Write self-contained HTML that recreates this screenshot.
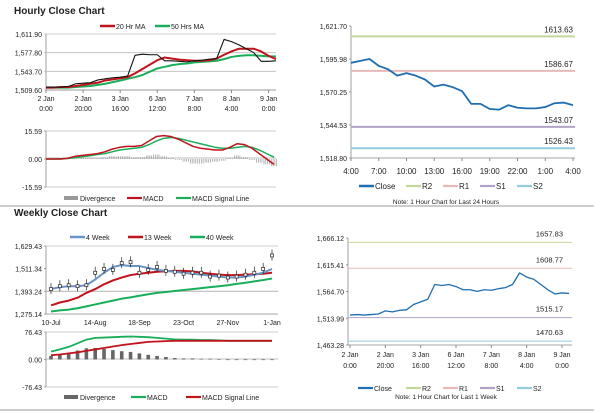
<!DOCTYPE html>
<html><head><meta charset="utf-8"><style>
html,body{margin:0;padding:0;background:#fff;}
svg{display:block;font-family:"Liberation Sans",sans-serif;}
text{fill:#222;}
</style></head><body>
<svg id="c" width="600" height="413" viewBox="0 0 600 413">
<text x="14" y="14" font-size="10" font-weight="bold">Hourly Close Chart</text>
<text x="14" y="216" font-size="10" font-weight="bold">Weekly Close Chart</text>
<line x1="0" y1="206" x2="594" y2="206" stroke="#999"/>
<line x1="0" y1="410" x2="594" y2="410" stroke="#999"/>
</svg>
<script>
// ---------- data ----------
const hIdx=[0,4,8,12,16,20,24,28,32,36,40,44,48,52,56,60,64,68,72,76,80,84,88,92,96,100,104,108,112,116,120,124];
const hClose=[1515,1515,1515,1516,1521,1522,1523,1528,1530,1532,1533,1535,1573,1575,1574,1574,1563,1563,1562,1561,1563,1564,1566,1567,1602,1598,1592,1585,1578,1562,1562,1563];
const hMA20=[1514,1514,1515,1515,1517,1519,1521,1523,1527,1529,1531,1533,1540,1548,1556,1564,1569,1567,1565,1564,1563,1563,1564,1567,1574,1580,1585,1585,1585,1580,1572,1566];
const hMA50=[1514,1514,1514,1514,1515,1516,1517,1519,1521,1524,1527,1530,1533,1537,1543,1549,1552,1555,1557,1558,1560,1561,1562,1563,1566,1570,1572,1573,1573,1572,1571,1571];
const hMACD=[0,0,0,0.5,1.5,2,2.5,3,4,5.5,6.5,7,7,7.5,10,12.5,13,12.5,11,9,7,6,5.5,5,5,6.5,8.5,8,6,3,0,-3];
const hSignal=[0,0,0,0.3,0.8,1.3,1.8,2.5,3,4,5,5.5,6,6.5,8,10,11.5,12,11.5,10.5,9.5,8.5,7.5,6.5,6,6,6.5,7,6.5,5,3,1];
const hDiv=[0,0,0,0.2,0.7,0.7,0.7,0.5,1,1.5,1.5,1.5,1,1,2,2.5,1.5,0.5,-0.5,-1.5,-2.5,-2.5,-2,-1.5,-1,0.5,2,1,-0.5,-2,-3,-4];
const hTickIdx=[0,20,40,60,80,100,120];
const hTickLbl=[["2 Jan","0:00"],["2 Jan","20:00"],["3 Jan","16:00"],["6 Jan","12:00"],["7 Jan","8:00"],["8 Jan","4:00"],["9 Jan","0:00"]];
const hPriceTicks=[1509.60,1543.70,1577.80,1611.90];
const hMacdTicks=[-15.59,0,15.59];

const dClose=[1593,1594.5,1596,1590.6,1588,1583,1585,1583,1580,1574.5,1576,1574,1571,1561,1561,1557,1556.5,1560,1558,1557.5,1557.5,1558.5,1561.5,1562,1560];
const dTickLbl=["4:00","7:00","10:00","13:00","16:00","19:00","22:00","1:00","4:00"];
const dPriceTicks=[1518.80,1544.53,1570.25,1595.98,1621.70];
const dLevels=[1613.63,1586.67,1543.07,1526.43];

const wkLbl=["10-Jul","14-Aug","18-Sep","23-Oct","27-Nov","1-Jan"];
const wkClose=[1405,1420,1425,1420,1425,1490,1510,1505,1540,1545,1490,1505,1520,1500,1495,1485,1490,1490,1470,1475,1465,1470,1480,1490,1510,1580];
const wk4=[1405,1415,1420,1420,1425,1455,1490,1520,1530,1525,1525,1515,1505,1500,1495,1490,1485,1480,1475,1470,1465,1465,1470,1480,1490,1510];
const wk13=[1320,1335,1345,1360,1385,1405,1430,1450,1465,1478,1485,1490,1495,1498,1500,1500,1497,1490,1485,1480,1478,1478,1480,1482,1485,1490];
const wk40=[1288,1294,1298,1305,1315,1325,1335,1345,1355,1362,1370,1378,1385,1390,1395,1400,1405,1410,1415,1420,1425,1432,1438,1445,1452,1460];
const wPriceTicks=[1275.14,1393.24,1511.34,1629.43];
const wMACD=[22,28,35,45,55,60,61,62,63,64,63,62,60,58,56,55,55,54,54,53,52,52,52,52,52,52];
const wSignal=[12,14,17,20,24,28,32,36,40,43,46,49,50,51,52,52,52,52,52,52,52,52,52,52,52,52];
const wDiv=[10,14,18,25,31,32,29,26,23,21,17,13,10,7,4,3,3,2,2,1,0,0,-1,-1,0,0];
const wMacdTicks=[-76.43,0,76.43];

const woClose=[1520,1521,1520,1521,1522,1528,1526,1529,1530,1540,1545,1550,1578,1576,1578,1574,1568,1568,1565,1568,1567,1570,1572,1578,1600,1592,1588,1578,1568,1560,1562,1561];
const woPriceTicks=[1463.28,1513.99,1564.70,1615.41,1666.12];
const woLevels=[1657.83,1608.77,1515.17,1470.63];

// ---------- helpers ----------
const S=document.getElementById('c');const NS='http://www.w3.org/2000/svg';
function el(t,a,txt){const e=document.createElementNS(NS,t);for(const k in a)e.setAttribute(k,a[k]);if(txt!==undefined)e.textContent=txt;S.appendChild(e);return e;}
function lin(d0,d1,r0,r1){return v=>r0+(v-d0)*(r1-r0)/(d1-d0);}
function fmt(v){const s=Math.abs(v).toFixed(2).replace(/\B(?=(\d{3})+(?!\d))/g,",");return (v<0?"-":"")+s;}
function poly(xs,ys,col,w,name){const p=el('polyline',{points:xs.map((x,i)=>x+','+ys[i]).join(' '),fill:'none',stroke:col,'stroke-width':w,'stroke-linejoin':'round'});

return p;}
function yAxis(x,ticks,ys,x2,grid,name){
 el('line',{x1:x,y1:ys(ticks[ticks.length-1]),x2:x,y2:ys(ticks[0]),stroke:'#888','stroke-width':0.8});
 ticks.forEach(t=>{const y=ys(t);
  const tx=el('text',{x:x-4,y:y+3,'font-size':7,'text-anchor':'end'},fmt(t));
  
  
  el('line',{x1:x-2,y1:y,x2:grid?x2:x,y2:y,stroke:grid?'#bbb':'#888','stroke-width':0.8});});}
function legend(items,y,fs){items.forEach(it=>{
 if(it.bar)el('rect',{x:it.x,y:y-3,width:14,height:4,fill:it.c});else el('line',{x1:it.x,y1:y-1,x2:it.x+15,y2:y-1,stroke:it.c,'stroke-width':it.w||2.2});
 const t=el('text',{x:it.x+16,y:y+2,'font-size':fs||7},it.t);
 
 });}

// ---------- hourly price ----------
{const X=lin(0,124,46,276),Y=lin(1509.6,1611.9,90,34);
 yAxis(46,hPriceTicks,Y,276,true,'hourly-price');
 el('line',{x1:46,y1:90,x2:276,y2:90,stroke:'#888','stroke-width':0.8});
 hTickIdx.forEach((t,i)=>{const x=X(t);el('line',{x1:x,y1:90,x2:x,y2:93,stroke:'#888'});
  el('text',{x:x,y:101,'font-size':7,'text-anchor':'middle'},hTickLbl[i][0]);
  el('text',{x:x,y:111,'font-size':7,'text-anchor':'middle'},hTickLbl[i][1]);});
 const xs=hIdx.map(X);
 poly(xs,hMA50.map(Y),'#1aae5a',2,'ma50-line');
 poly(xs,hMA20.map(Y),'#c0141c',2,'ma20-line');
 poly(xs,hClose.map(Y),'#111',1.1,'hourly-close-line');
 legend([{x:100,c:'#c0141c',t:'20 Hr MA',w:2.5},{x:155,c:'#1aae5a',t:'50 Hrs MA',w:2.5}],27);}
// ---------- hourly macd ----------
{const X=lin(0,124,46,274),Y=lin(-15.59,15.59,187,131);
 yAxis(46,hMacdTicks,Y,276,false,'hourly-macd');
 el('line',{x1:46,y1:131,x2:276,y2:131,stroke:'#bbb','stroke-width':0.8});
 el('line',{x1:46,y1:187,x2:276,y2:187,stroke:'#bbb','stroke-width':0.8});
 el('line',{x1:46,y1:158,x2:276,y2:158,stroke:'#aaa','stroke-width':0.8});
 hIdx.forEach((t,i)=>{const y0=Y(0),y1=Y(hDiv[i]);for(let k=0;k<4;k++){const x=X(t)+k*1.8-2.7;
  const b=el('line',{x1:x,y1:y0,x2:x,y2:y1,stroke:'#999','stroke-width':0.7});
  
  }});
 const xs=hIdx.map(X);
 poly(xs,hSignal.map(Y),'#1aae5a',1.5,'hourly-signal-line');
 poly(xs,hMACD.map(Y),'#c0141c',1.5,'hourly-macd-line');
 legend([{x:64,c:'#999',t:'Divergence',bar:1},{x:127,c:'#c0141c',t:'MACD'},{x:176,c:'#1aae5a',t:'MACD Signal Line'}],199);}
// ---------- 24h chart ----------
{const X=lin(0,24,351,573),Y=lin(1518.8,1621.7,158,26);
 yAxis(351,dPriceTicks,Y,351,false,'day-price');
 el('line',{x1:351,y1:158,x2:575,y2:158,stroke:'#888','stroke-width':0.8});
 dTickLbl.forEach((l,i)=>{const x=X(i*3);el('line',{x1:x,y1:158,x2:x,y2:161,stroke:'#888'});el('text',{x:x,y:174,'font-size':8,'text-anchor':'middle'},l);});
 const cols=['#c4d79b','#e6b9b8','#b3a2c7','#93cddd'];
 dLevels.forEach((v,i)=>{const l=el('line',{x1:351,y1:Y(v),x2:575,y2:Y(v),stroke:cols[i],'stroke-width':2});
  
  
  el('text',{x:573,y:Y(v)-4,'font-size':8,'text-anchor':'end'},v.toFixed(2));});
 poly(dClose.map((v,i)=>X(i)),dClose.map(Y),'#1f6eb0',1.8,'day-close-line');
 legend([{x:359,c:'#1f6eb0',t:'Close',w:2.5},{x:406,c:'#c4d79b',t:'R2'},{x:443,c:'#e6b9b8',t:'R1'},{x:480,c:'#b3a2c7',t:'S1'},{x:517,c:'#93cddd',t:'S2'}],187,8);
 el('text',{x:446,y:204,'font-size':6.5,'text-anchor':'middle'},'Note: 1 Hour Chart for Last 24 Hours');}
// ---------- weekly price ----------
{const X=lin(0,25,51,272),Y=lin(1275.14,1629.43,314,246);
 yAxis(46,wPriceTicks,Y,276,false,'weekly-price');
 el('line',{x1:46,y1:Y(1393.24),x2:278,y2:Y(1393.24),stroke:'#bbb','stroke-width':1.2});
 el('line',{x1:46,y1:246,x2:278,y2:246,stroke:'#bbb','stroke-width':0.8});
 el('line',{x1:46,y1:314,x2:278,y2:314,stroke:'#888','stroke-width':0.8});
 wkLbl.forEach((l,i)=>{const x=X(i*5);el('text',{x:x,y:325,'font-size':7,'text-anchor':'middle'},l);});
 const xs=wk4.map((v,i)=>X(i));
 poly(xs,wk40.map(Y),'#1aae5a',2,'week40-line');
 poly(xs,wk13.map(Y),'#c0141c',2,'week13-line');
 poly(xs,wk4.map(Y),'#6a93c8',2,'week4-line');
 wkClose.forEach((v,i)=>{const x=X(i),y=Y(v);el('line',{x1:x,y1:y-6,x2:x,y2:y+5,stroke:'#222','stroke-width':0.7});
  const r=el('rect',{x:x-1.5,y:y-1.5,width:3,height:3,fill:'#fff',stroke:'#222','stroke-width':0.7});
  
  });
 legend([{x:70,c:'#6a93c8',t:'4 Week',w:2.5},{x:128,c:'#c0141c',t:'13 Week',w:2.5},{x:190,c:'#1aae5a',t:'40 Week',w:2.5}],238);}
// ---------- weekly macd ----------
{const X=lin(0,25,51,272),Y=lin(-76.43,76.43,387,332);
 yAxis(46,wMacdTicks,Y,276,false,'weekly-macd');
 el('line',{x1:46,y1:332,x2:278,y2:332,stroke:'#bbb','stroke-width':0.8});
 el('line',{x1:46,y1:387,x2:278,y2:387,stroke:'#bbb','stroke-width':0.8});
 el('line',{x1:46,y1:359,x2:278,y2:359,stroke:'#aaa','stroke-width':0.8});
 wDiv.forEach((v,i)=>{const y0=Y(0),y1=Y(v);const b=el('rect',{x:X(i)-1.8,y:Math.min(y0,y1),width:3.6,height:Math.max(0.6,Math.abs(y1-y0)),fill:'#666'});
  
  });
 const xs=wMACD.map((v,i)=>X(i));
 poly(xs,wMACD.map(Y),'#1aae5a',1.8,'weekly-macd-line');
 poly(xs,wSignal.map(Y),'#c0141c',1.8,'weekly-signal-line');
 legend([{x:64,c:'#666',t:'Divergence',bar:1},{x:131,c:'#1aae5a',t:'MACD'},{x:186,c:'#c0141c',t:'MACD Signal Line'}],398);}
// ---------- week hourly chart ----------
{const X=lin(0,120,350,562),Y=lin(1463.28,1666.12,345,238);
 yAxis(348,woPriceTicks,Y,348,false,'week-hourly-price');
 el('line',{x1:348,y1:345,x2:572,y2:345,stroke:'#888','stroke-width':0.8});
 hTickIdx.forEach((t,i)=>{const x=X(t);el('line',{x1:x,y1:345,x2:x,y2:348,stroke:'#888'});
  el('text',{x:x,y:357,'font-size':7,'text-anchor':'middle'},hTickLbl[i][0]);
  el('text',{x:x,y:368,'font-size':7,'text-anchor':'middle'},hTickLbl[i][1]);});
 const cols=['#c4d79b','#e6b9b8','#b3a2c7','#93cddd'];
 woLevels.forEach((v,i)=>{const l=el('line',{x1:348,y1:Y(v),x2:572,y2:Y(v),stroke:cols[i],'stroke-width':1});
  
  
  el('text',{x:563,y:Y(v)-6,'font-size':7.5,'text-anchor':'end'},v.toFixed(2));});
 poly(hIdx.map(X),woClose.map(Y),'#1f6eb0',1.3,'week-close-line');
 legend([{x:358,c:'#1f6eb0',t:'Close'},{x:406,c:'#c4d79b',t:'R2'},{x:443,c:'#e6b9b8',t:'R1'},{x:480,c:'#b3a2c7',t:'S1'},{x:517,c:'#93cddd',t:'S2'}],389);
 el('text',{x:446,y:399,'font-size':6.5,'text-anchor':'middle'},'Note: 1 Hour Chart for Last 1 Week');}
</script>
</body></html>
